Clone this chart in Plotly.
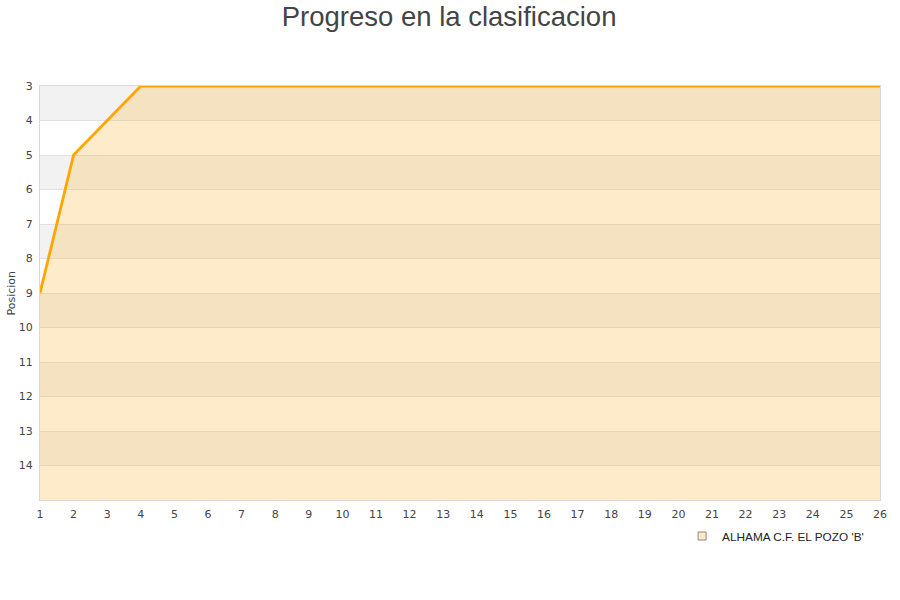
import plotly.graph_objects as go

# Data
jornadas = list(range(1, 27))
posiciones = [9, 5, 4, 3, 3, 3, 3, 3, 3, 3, 3, 3, 3, 3, 3, 3, 3, 3, 3, 3, 3, 3, 3, 3, 3, 3]
equipo = "ALHAMA C.F. EL POZO 'B'"
y_ticks = list(range(3, 15))
y_bottom = 15

line_color = "#FFA500"
fill_color = "rgba(253,190,80,0.3)"

fig = go.Figure()

# Baseline at the bottom of the reversed axis, so the area fills down
fig.add_trace(go.Scatter(
    x=jornadas, y=[y_bottom] * len(jornadas),
    mode="lines", line=dict(width=0), showlegend=False, hoverinfo="skip",
))
fig.add_trace(go.Scatter(
    x=jornadas, y=posiciones,
    mode="lines", line=dict(color=line_color, width=2.8),
    fill="tonexty", fillcolor=fill_color,
    showlegend=False, cliponaxis=False,
))
# Legend entry
fig.add_trace(go.Scatter(
    x=[None], y=[None], mode="markers", name=equipo,
    marker=dict(symbol="square", size=8, color="#fde9c6",
                line=dict(color="#8a8a8a", width=1)),
))

# Alternating background bands
shapes = []
for t in y_ticks[::2]:
    shapes.append(dict(
        type="rect", xref="paper", yref="y", x0=0, x1=1, y0=t, y1=t + 1,
        fillcolor="#f2f2f2", line=dict(width=0), layer="below",
    ))

fig.update_layout(
    width=900, height=600,
    paper_bgcolor="white", plot_bgcolor="white",
    margin=dict(l=40, r=20, t=86, b=100),
    title=dict(text="Progreso en la clasificacion", x=0.499, xanchor="center",
               y=1 - 16 / 600, yanchor="middle",
               font=dict(family="Liberation Sans", size=27.5, color="#444444")),
    font=dict(family="DejaVu Sans", size=11, color="#444444"),
    shapes=shapes,
    annotations=[dict(
        text="Posicion", textangle=-90, xref="paper", yref="paper",
        x=-29.5 / 840, y=0.5, xanchor="center", yanchor="middle", showarrow=False,
        font=dict(family="DejaVu Sans", size=11, color="#444444"),
    )],
    showlegend=True,
    legend=dict(orientation="h", x=0.987, xanchor="right", y=-0.087, yanchor="middle",
                font=dict(family="Liberation Sans", size=11.8, color="#222222"),
                bgcolor="rgba(0,0,0,0)"),
)

fig.update_xaxes(
    range=[1, 26], tickmode="array", tickvals=jornadas,
    showgrid=False, zeroline=False, automargin=False,
    showline=True, linecolor="#d9d9d9", linewidth=1, mirror=True,
    ticks="", ticklabelstandoff=4, tickfont=dict(size=11, color="#444444"),
)
fig.update_yaxes(
    range=[y_bottom, 3], tickmode="array", tickvals=y_ticks,
    showgrid=True, gridcolor="#e0e0e0", gridwidth=1, zeroline=False,
    automargin=False,
    showline=True, linecolor="#d9d9d9", linewidth=1, mirror=True,
    ticks="", ticklabelstandoff=4, tickfont=dict(size=11, color="#444444"),
)

# drop the default body margin so the figure sits at the page corner
fig.write_html("out.html", config={"displayModeBar": False},
               post_script="document.body.style.margin='0';")
